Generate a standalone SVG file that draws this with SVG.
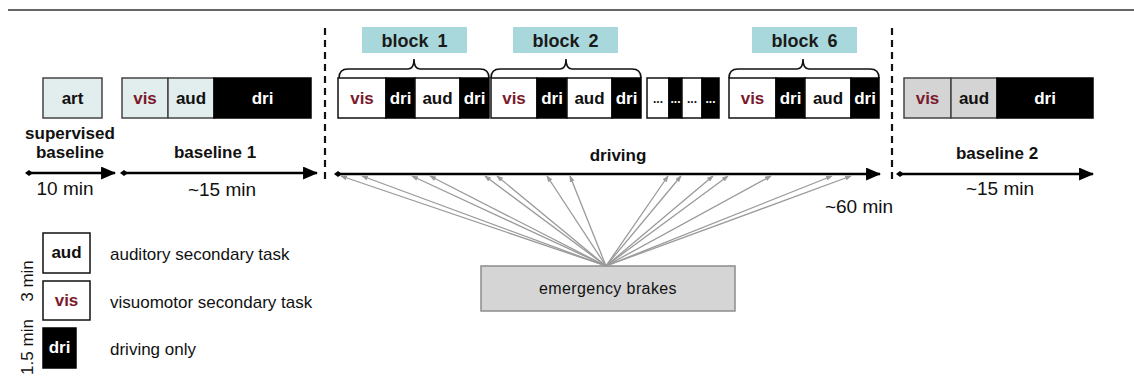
<svg xmlns="http://www.w3.org/2000/svg" width="1134" height="382" viewBox="0 0 1134 382">
<defs>
<style>
.t{font-family:"Liberation Sans",Arial,sans-serif}
.b{font-family:"Liberation Sans",Arial,sans-serif;font-weight:bold;font-size:17px;text-anchor:middle}
.r{font-family:"Liberation Sans",Arial,sans-serif;font-size:19px;text-anchor:middle;fill:#111}
.leg{font-family:"Liberation Sans",Arial,sans-serif;font-size:17px;fill:#111}
.lb{fill:#e2eded;stroke:#444;stroke-width:1.5}
.gb{fill:#d4d4d4;stroke:#444;stroke-width:1.5}
.wb{fill:#fff;stroke:#111;stroke-width:1.5}
.kb{fill:#000;stroke:#000;stroke-width:1.5}
.vis{fill:#7a1a2c}
.wt{fill:#fff}
.kt{fill:#111}
.tag{fill:#a9d8dc}
.tagt{font-family:"Liberation Sans",Arial,sans-serif;font-weight:bold;font-size:18px;text-anchor:middle;fill:#1a1a1a;word-spacing:4px}
.brace{fill:none;stroke:#111;stroke-width:1.6}
.dash{stroke:#111;stroke-width:2.2;stroke-dasharray:7 5}
.main{stroke:#000;stroke-width:2.6;fill:none}
.gl{stroke:#9a9a9a;stroke-width:1.3;fill:none}
</style>
<marker id="ah" viewBox="0 0 14 12" refX="13" refY="6" markerWidth="15" markerHeight="13" markerUnits="userSpaceOnUse" orient="auto"><path d="M0,0 L14,6 L0,12 z" fill="#000"/></marker>
<marker id="dm" viewBox="0 0 8 8" refX="4" refY="4" markerWidth="8" markerHeight="8" markerUnits="userSpaceOnUse" orient="auto"><path d="M0,4 L4,1 L8,4 L4,7 z" fill="#000"/></marker>
<marker id="gh" viewBox="0 0 8 6" refX="7" refY="3" markerWidth="7" markerHeight="5" markerUnits="userSpaceOnUse" orient="auto"><path d="M0,0 L8,3 L0,6 z" fill="#9a9a9a"/></marker>
</defs>
<rect width="1134" height="382" fill="#fff"/>
<line x1="8" y1="10" x2="1134" y2="10" stroke="#333" stroke-width="1.5"/>

<g id="supervised-baseline">
<rect class="lb" x="43" y="78" width="59" height="40"/>
<text class="b kt" x="72.5" y="104">art</text>
<text class="b kt" x="70" y="139">supervised</text>
<text class="b kt" x="70" y="158">baseline</text>
<text class="r" x="65" y="195">10 min</text>
</g>

<g id="baseline-1">
<rect class="lb" x="122" y="78" width="46" height="40"/>
<rect class="lb" x="168" y="78" width="46" height="40"/>
<rect class="kb" x="214" y="78" width="97" height="40"/>
<text class="b vis" x="145" y="104">vis</text>
<text class="b kt" x="191" y="104">aud</text>
<text class="b wt" x="262.5" y="104">dri</text>
<text class="b kt" x="215" y="158">baseline 1</text>
<text class="r" x="222" y="196">~15 min</text>
</g>

<g id="dividers">
<line class="dash" x1="325" y1="28" x2="325" y2="182"/>
<line class="dash" x1="892" y1="28" x2="892" y2="182"/>
</g>

<g id="block-1">
<rect class="tag" x="362" y="27" width="105" height="26"/>
<text class="tagt" x="414.5" y="47">block 1</text>
<path class="brace" d="M339,78 Q339,69 348,69 L408,69 Q414,69 414,59 Q414,69 420,69 L480,69 Q489,69 489,78"/>
<rect class="wb" x="338" y="78" width="48" height="40"/>
<rect class="kb" x="386" y="78" width="29" height="40"/>
<rect class="wb" x="415" y="78" width="45" height="40"/>
<rect class="kb" x="460" y="78" width="29" height="40"/>
<text class="b vis" x="362" y="104">vis</text>
<text class="b wt" x="400.5" y="104">dri</text>
<text class="b kt" x="437.5" y="104">aud</text>
<text class="b wt" x="474.5" y="104">dri</text>
</g>

<g id="block-2">
<rect class="tag" x="513" y="27" width="105" height="26"/>
<text class="tagt" x="565.5" y="47">block 2</text>
<path class="brace" d="M491,78 Q491,69 500,69 L560,69 Q566,69 566,59 Q566,69 572,69 L632,69 Q641,69 641,78"/>
<rect class="wb" x="491" y="78" width="46" height="40"/>
<rect class="kb" x="537" y="78" width="30" height="40"/>
<rect class="wb" x="567" y="78" width="45" height="40"/>
<rect class="kb" x="612" y="78" width="29" height="40"/>
<text class="b vis" x="514" y="104">vis</text>
<text class="b wt" x="552" y="104">dri</text>
<text class="b kt" x="589.5" y="104">aud</text>
<text class="b wt" x="626.5" y="104">dri</text>
</g>

<g id="blocks-3-5">
<rect class="wb" x="647" y="78" width="22" height="40"/>
<rect class="kb" x="669" y="78" width="13" height="40"/>
<rect class="wb" x="682" y="78" width="20" height="40"/>
<rect class="kb" x="702" y="78" width="17" height="40"/>
<text class="b kt" x="658" y="103" style="font-size:12px">...</text>
<text class="b wt" x="675.5" y="103" style="font-size:12px">...</text>
<text class="b kt" x="692" y="103" style="font-size:12px">...</text>
<text class="b wt" x="710.5" y="103" style="font-size:12px">...</text>
</g>

<g id="block-6">
<rect class="tag" x="752" y="27" width="105" height="26"/>
<text class="tagt" x="804.5" y="47">block 6</text>
<path class="brace" d="M729,78 Q729,69 738,69 L797,69 Q803,69 803,59 Q803,69 809,69 L870,69 Q879,69 879,78"/>
<rect class="wb" x="729" y="78" width="47" height="40"/>
<rect class="kb" x="776" y="78" width="29" height="40"/>
<rect class="wb" x="805" y="78" width="46" height="40"/>
<rect class="kb" x="851" y="78" width="28" height="40"/>
<text class="b vis" x="752.5" y="104">vis</text>
<text class="b wt" x="790.5" y="104">dri</text>
<text class="b kt" x="828" y="104">aud</text>
<text class="b wt" x="865" y="104">dri</text>
</g>

<g id="driving-label">
<text class="b kt" x="618" y="161">driving</text>
<text class="r" x="859" y="213">~60 min</text>
</g>

<g id="baseline-2">
<rect class="gb" x="904" y="78" width="47" height="40"/>
<rect class="gb" x="951" y="78" width="46" height="40"/>
<rect class="kb" x="997" y="78" width="96" height="40"/>
<text class="b vis" x="927.5" y="104">vis</text>
<text class="b kt" x="974" y="104">aud</text>
<text class="b wt" x="1045" y="104">dri</text>
<text class="b kt" x="997" y="159">baseline 2</text>
<text class="r" x="1000" y="195">~15 min</text>
</g>

<g id="emergency-brakes">
<rect x="481" y="266" width="254" height="45" fill="#d5d5d5" stroke="#8c8c8c" stroke-width="1.5"/>
<text class="t" x="608" y="294" style="font-size:16px;text-anchor:middle;letter-spacing:0.4px" fill="#111">emergency brakes</text>
</g>

<g id="legend">
<rect class="wb" x="43" y="233" width="47" height="40"/>
<text class="b kt" x="66.5" y="258">aud</text>
<text class="leg" x="110" y="260">auditory secondary task</text>
<rect class="wb" x="43" y="281" width="47" height="39"/>
<text class="b vis" x="66.5" y="306">vis</text>
<text class="leg" x="110" y="308">visuomotor secondary task</text>
<rect class="kb" x="43" y="328" width="33" height="40"/>
<text class="b wt" x="59.5" y="353">dri</text>
<text class="leg" x="110" y="355">driving only</text>
<text class="leg" transform="translate(33,281) rotate(-90)" text-anchor="middle">3 min</text>
<text class="leg" transform="translate(33,347) rotate(-90)" text-anchor="middle">1.5 min</text>
</g>

<g id="connectors">
<line class="main" x1="29" y1="173" x2="115" y2="173" marker-start="url(#dm)" marker-end="url(#ah)"/>
<line class="main" x1="124" y1="173" x2="317" y2="173" marker-start="url(#dm)" marker-end="url(#ah)"/>
<line class="main" x1="338" y1="174" x2="880" y2="174" marker-start="url(#dm)" marker-end="url(#ah)"/>
<line class="main" x1="900" y1="174" x2="1093" y2="174" marker-start="url(#dm)" marker-end="url(#ah)"/>
<g marker-end="url(#gh)">
<line class="gl" x1="606" y1="266" x2="341" y2="176"/>
<line class="gl" x1="606" y1="266" x2="362" y2="176"/>
<line class="gl" x1="606" y1="266" x2="412" y2="176"/>
<line class="gl" x1="606" y1="266" x2="430" y2="176"/>
<line class="gl" x1="606" y1="266" x2="485" y2="176"/>
<line class="gl" x1="606" y1="266" x2="497" y2="176"/>
<line class="gl" x1="606" y1="266" x2="547" y2="176"/>
<line class="gl" x1="606" y1="266" x2="570" y2="176"/>
<line class="gl" x1="606" y1="266" x2="668" y2="176"/>
<line class="gl" x1="606" y1="266" x2="681" y2="176"/>
<line class="gl" x1="606" y1="266" x2="713" y2="176"/>
<line class="gl" x1="606" y1="266" x2="728" y2="176"/>
<line class="gl" x1="606" y1="266" x2="771" y2="176"/>
<line class="gl" x1="606" y1="266" x2="832" y2="176"/>
<line class="gl" x1="606" y1="266" x2="851" y2="176"/>
</g>
</g>
</svg>
